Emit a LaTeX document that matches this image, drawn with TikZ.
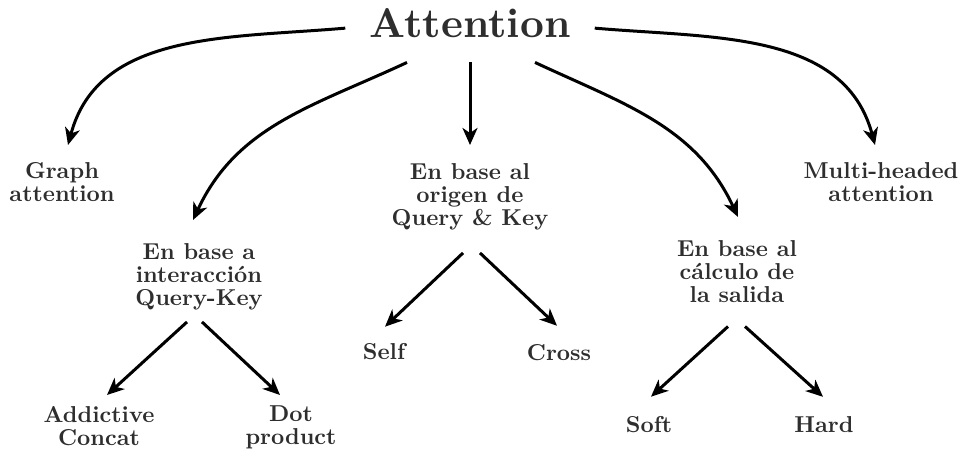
\documentclass[tikz,border=0pt]{standalone}
\usepackage{fontspec}
\setmainfont{lmroman10-regular.otf}[BoldFont=lmroman10-bold.otf]
\usetikzlibrary{arrows.meta}
\tikzset{
  topic/.style={inner sep=0pt, align=center, text=black!82,
    font=\fontsize{23}{23}\selectfont\bfseries},
  arr/.style={-{Stealth[length=17pt,width=15pt,inset=5pt]}, line width=3pt},
}

\begin{document}
\begin{tikzpicture}[x=1pt,y=1pt]
 \useasboundingbox (0,0) rectangle (976,449);

 % root
 \node[topic, inner sep=24pt, anchor=base,
   font=\fontsize{41.5}{41.5}\selectfont\bfseries] (att) at (470,411) {Attention};

 % first level
 \node[topic, anchor=north] (graph) at (62,287) {Graph\\attention};
 \node[topic, anchor=north] (inter) at (199,206) {En base a\\interacción\\Query-Key};
 \node[topic, anchor=north] (origin) at (470,286) {En base al\\origen de\\Query \& Key};
 \node[topic, anchor=north] (calc) at (737,209) {En base al\\cálculo de\\la salida};
 \node[topic, anchor=north] (multi) at (881,287) {Multi-headed\\attention};

 % second level
 \node[topic, anchor=north] (add) at (99,43) {Addictive\\Concat};
 \node[topic, anchor=north] (dot) at (291,43) {Dot\\product};
 \node[topic, anchor=base] (self) at (384,89) {Self};
 \node[topic, anchor=base] (cross) at (559,88) {Cross};
 \node[topic, anchor=base] (soft) at (649,16) {Soft};
 \node[topic, anchor=base] (hard) at (824,16) {Hard};

 \draw[arr] ([yshift=-4.5pt]att.west) to[out=185,in=75] ([xshift=6pt,yshift=17pt]graph.north);
 \draw[arr] ([xshift=-63pt]att.south) to[out=205,in=65] ([xshift=-6pt,yshift=23pt]inter.north);
 \draw[arr] (att.south) -- ([yshift=18pt]origin.north);
 \draw[arr] ([xshift=65pt]att.south) to[out=-25,in=115] ([xshift=1pt,yshift=23pt]calc.north);
 \draw[arr] ([yshift=-4.5pt]att.east) to[out=-5,in=105] ([xshift=-6pt,yshift=17pt]multi.north);

 \draw[arr] ([xshift=-12pt,yshift=-12pt]inter.south) -- ([xshift=8pt,yshift=11pt]add.north);
 \draw[arr] ([xshift=3pt,yshift=-12pt]inter.south) -- ([xshift=-11pt,yshift=11pt]dot.north);
 \draw[arr] ([xshift=-7pt,yshift=-23pt]origin.south) -- ([xshift=1pt,yshift=17pt]self.north);
 \draw[arr] ([xshift=10pt,yshift=-23pt]origin.south) -- ([xshift=-2pt,yshift=19pt]cross.north);
 \draw[arr] ([xshift=-9pt,yshift=-24pt]calc.south) -- ([xshift=2pt,yshift=20pt]soft.north);
 \draw[arr] ([xshift=8pt,yshift=-24pt]calc.south) -- ([xshift=-1pt,yshift=20pt]hard.north);

\end{tikzpicture}
\end{document}
